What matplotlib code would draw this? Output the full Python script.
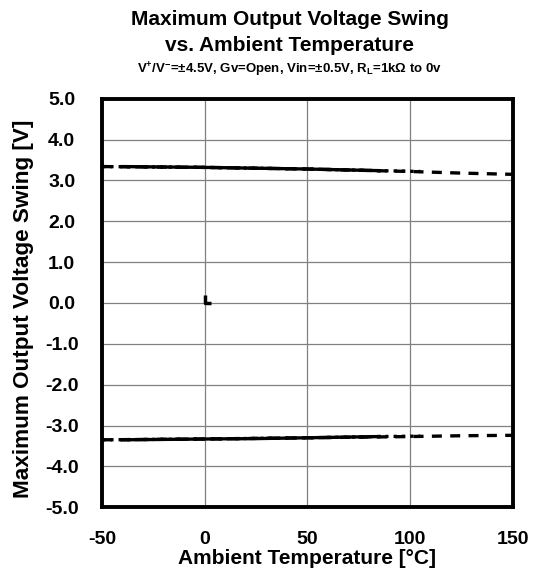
import matplotlib
matplotlib.use("Agg")
import matplotlib.pyplot as plt

plt.rcParams['font.family'] = ['Liberation Sans', 'DejaVu Sans']
plt.rcParams['font.weight'] = 'bold'
plt.rcParams['axes.unicode_minus'] = False
plt.rcParams['mathtext.fontset'] = 'custom'
plt.rcParams['mathtext.rm'] = 'Liberation Sans:bold'
plt.rcParams['mathtext.it'] = 'Liberation Sans:bold'
plt.rcParams['mathtext.bf'] = 'Liberation Sans:bold'

# solid curve (-40 .. 85 degC)
temp_solid = [-40, 0, 25, 50, 85]
vout_hi_solid = [3.34, 3.32, 3.30, 3.28, 3.24]
vout_lo_solid = [-3.35, -3.33, -3.32, -3.30, -3.27]

# dotted curve (-50 .. 105 degC)
temp_dot = [-50, 0, 50, 85, 105]
vout_hi_dot = [3.34, 3.32, 3.28, 3.24, 3.22]
vout_lo_dot = [-3.35, -3.33, -3.30, -3.27, -3.26]

# dashed curve (-50 .. 150 degC)
temp_dash = [-50, 0, 50, 100, 125, 150]
vout_hi_dash = [3.34, 3.32, 3.28, 3.22, 3.18, 3.15]
vout_lo_dash = [-3.35, -3.33, -3.30, -3.27, -3.25, -3.24]

# stray mark at the origin
temp_mark = [0, 0, 3]
vout_mark = [0.2, 0.0, 0.0]

xticks = [-50, 0, 50, 100, 150]
yticks = [5.0, 4.0, 3.0, 2.0, 1.0, 0.0, -1.0, -2.0, -3.0, -4.0, -5.0]

fig = plt.figure(figsize=(5.42, 5.81), dpi=100)
ax = fig.add_axes([0.188, 0.127, 0.758, 0.703])

lw = 2.4
ax.plot(temp_dash, vout_hi_dash, color='black', lw=lw, linestyle=(0, (3, 2.5)))
ax.plot(temp_dash, vout_lo_dash, color='black', lw=lw, linestyle=(0, (3, 2.5)))
ax.plot(temp_dot, vout_hi_dot, color='black', lw=lw, linestyle=(0, (1, 1.5)))
ax.plot(temp_dot, vout_lo_dot, color='black', lw=lw, linestyle=(0, (1, 1.5)))
ax.plot(temp_solid, vout_hi_solid, color='black', lw=lw)
ax.plot(temp_solid, vout_lo_solid, color='black', lw=lw)
ax.plot(temp_mark, vout_mark, color='black', lw=2.5, solid_capstyle='butt')

ax.set_xlim(-50, 150)
ax.set_ylim(-5, 5)
ax.set_xticks(xticks)
ax.set_yticks(yticks)
ax.set_yticklabels([f"{v:.1f}" for v in yticks])
ax.tick_params(length=0, labelsize=14)
ax.tick_params(axis='x', pad=17)
ax.tick_params(axis='y', pad=29)
for lab in ax.get_xticklabels() + ax.get_yticklabels():
    lab.set_fontweight('bold')
for lab in ax.get_yticklabels():
    lab.set_ha('center')
ax.grid(True, color='#808080', lw=0.9)
ax.set_axisbelow(True)
for s in ax.spines.values():
    s.set_linewidth(2.8)
    s.set_color('black')

ax.set_xlabel("Ambient Temperature [°C]", fontsize=15, fontweight='bold', labelpad=1)
ax.set_ylabel("Maximum Output Voltage Swing [V]", fontsize=16.2, fontweight='bold',
              va='center')
ax.yaxis.set_label_coords(-0.19, 0.485)

fig.text(0.535, 0.967, "Maximum Output Voltage Swing", ha='center', va='center',
         fontsize=15, fontweight='bold')
fig.text(0.535, 0.922, "vs. Ambient Temperature", ha='center', va='center',
         fontsize=15, fontweight='bold')
fig.text(0.535, 0.879, r"V$^{+}$/V$^{-}$=±4.5V, Gv=Open, Vin=±0.5V, R$_{L}$=1kΩ to 0v",
         ha='center', va='center', fontsize=9.5, fontweight='bold')

fig.savefig("out.png", dpi=100)
